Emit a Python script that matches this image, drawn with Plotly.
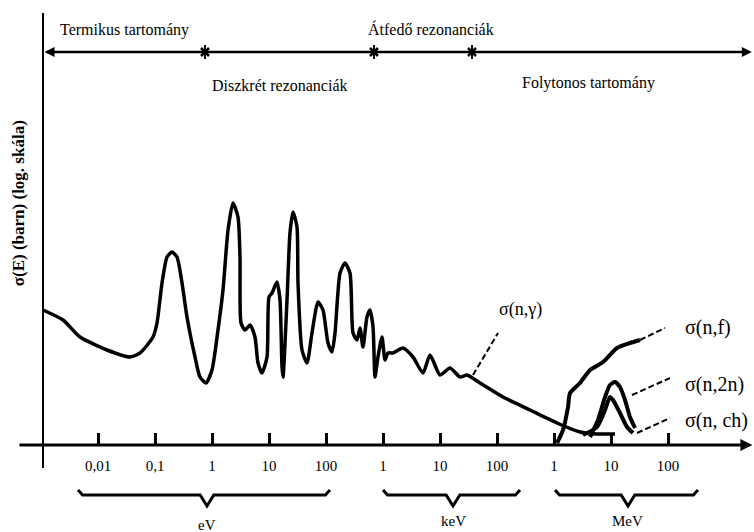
import plotly.graph_objects as go

# ---- data (x = log10(E / eV), y = relative log-cross-section units) ----
ng_logE = [-2.965, -2.614, -2.316, -1.842, -1.439, -1.263, -1.035, -0.965, -0.877, -0.789,
           -0.702, -0.614, -0.526, -0.439, -0.298, -0.211, -0.105, 0.0, 0.105, 0.193,
           0.281, 0.368, 0.456, 0.491, 0.509, 0.579, 0.667, 0.754, 0.807, 0.877,
           0.965, 1.0, 1.053, 1.140, 1.193, 1.228, 1.246, 1.316, 1.368, 1.421,
           1.491, 1.509, 1.579, 1.667, 1.754, 1.860, 1.947, 2.035, 2.105, 2.158,
           2.246, 2.333, 2.421, 2.474, 2.544, 2.596, 2.649, 2.719, 2.772, 2.825,
           2.860, 2.912, 2.982, 3.035, 3.088, 3.175, 3.351, 3.526, 3.702, 3.825,
           4.0, 4.175, 4.351, 4.474, 4.702, 5.105, 5.579, 6.053, 6.456, 6.754, 7.070]
ng_sigma = [13.5, 12.5, 10.8, 9.5, 8.8, 9.2, 10.8, 12.2, 16.2, 18.8,
            19.3, 18.8, 16.2, 12.8, 8.8, 6.8, 6.2, 7.5, 11.5, 15.5,
            21.5, 24.2, 22.8, 18.8, 12.2, 11.5, 12.0, 10.8, 8.2, 7.2,
            8.8, 14.8, 15.2, 16.3, 14.5, 7.8, 6.8, 14.5, 21.2, 23.3,
            21.8, 16.2, 9.5, 8.2, 11.2, 14.3, 13.5, 10.2, 9.3, 11.2,
            17.2, 18.2, 17.2, 11.2, 10.5, 11.7, 9.8, 12.8, 13.5, 11.8,
            6.8, 8.8, 10.8, 8.5, 9.2, 9.2, 9.7, 8.8, 7.2, 9.0,
            7.0, 7.7, 6.8, 7.0, 6.2, 4.8, 3.5, 2.2, 1.3, 1.1, 1.1]

nf_logE = [6.053, 6.158, 6.246, 6.281, 6.456, 6.632, 6.860, 7.105, 7.333, 7.509]
nf_sigma = [0.2, 1.5, 3.8, 5.2, 6.2, 7.5, 8.3, 9.7, 10.2, 10.5]

n2n_logE = [6.632, 6.772, 6.895, 6.982, 7.070, 7.158, 7.246, 7.333, 7.421]
n2n_sigma = [0.8, 2.5, 4.8, 6.0, 6.3, 5.8, 4.5, 2.8, 1.7]

nch_logE = [6.509, 6.754, 6.895, 6.982, 7.035, 7.158, 7.281, 7.386]
nch_sigma = [1.0, 1.8, 3.5, 4.8, 4.5, 3.2, 1.8, 1.2]

# curve labels: text, leader start (on curve), leader end, label anchor
curve_labels = ["σ(n,γ)", "σ(n,f)", "σ(n,2n)", "σ(n, ch)"]
leader_x0 = [4.579, 7.509, 7.368, 7.456]
leader_y0 = [7.0, 10.5, 5.0, 1.2]
leader_x1 = [5.018, 7.947, 8.035, 8.035]
leader_y1 = [11.2, 11.7, 6.7, 2.7]
label_x = [5.00, 8.27, 8.27, 8.27]
label_y = [13.6, 11.8, 6.1, 2.5]
label_size = [18, 20, 20, 20]

tick_logE = [-2, -1, 0, 1, 2, 3, 4, 5, 6, 7, 8]
tick_text = ["0,01", "0,1", "1", "10", "100", "1", "10", "100", "1", "10", "100"]

unit_names = ["eV", "keV", "MeV"]
unit_label_y = [-8.0, -7.6, -7.6]
brace_left = [-2.351, 3.0, 6.018]
brace_right = [2.070, 5.404, 8.526]
brace_mid = [-0.088, 4.228, 7.298]

region_names = ["Termikus tartomány", "Diszkrét rezonanciák", "Átfedő rezonanciák", "Folytonos tartomány"]
region_text_x = [-2.70, -0.035, 2.70, 5.40]
region_text_y = [41.5, 36.0, 41.6, 36.2]
region_bounds = [-0.123, 2.842, 4.561]

y_label = "σ(E) (barn) (log. skála)"

# ---- layout constants ----
X0, X1 = -212 / 57, (754 - 212) / 57
Y0, Y1 = -8.7, 44.5
TOP_Y = 39.3
FONT = "Times New Roman, Liberation Serif, DejaVu Serif, serif"

fig = go.Figure()

line_style = dict(color="black", width=3.5, shape="spline", smoothing=0.6)
fig.add_trace(go.Scatter(x=ng_logE, y=ng_sigma, mode="lines", line=line_style, hoverinfo="skip"))
fig.add_trace(go.Scatter(x=nf_logE, y=nf_sigma, mode="lines", line=dict(line_style, width=4), hoverinfo="skip"))
fig.add_trace(go.Scatter(x=n2n_logE, y=n2n_sigma, mode="lines", line=dict(line_style, width=4), hoverinfo="skip"))
fig.add_trace(go.Scatter(x=nch_logE, y=nch_sigma, mode="lines", line=dict(line_style, width=4), hoverinfo="skip"))

# leaders
for i in range(len(curve_labels)):
    fig.add_trace(go.Scatter(x=[leader_x0[i], leader_x1[i]], y=[leader_y0[i], leader_y1[i]],
                             mode="lines", line=dict(color="black", width=2, dash="6px,3px"),
                             hoverinfo="skip"))
    fig.add_annotation(x=label_x[i], y=label_y[i], text=curve_labels[i], showarrow=False,
                       xanchor="left", yanchor="middle",
                       font=dict(family=FONT, size=label_size[i], color="black"))

# braces for units
for i, u in enumerate(unit_names):
    a, b, m = brace_left[i], brace_right[i], brace_mid[i]
    bx = [a, a + 0.08, m - 0.12, m, m + 0.12, b - 0.08, b]
    by = [-4.5, -5.0, -5.0, -6.1, -5.0, -5.0, -4.5]
    fig.add_trace(go.Scatter(x=bx, y=by, mode="lines", line=dict(color="black", width=3),
                             hoverinfo="skip"))
    fig.add_annotation(x=m, y=unit_label_y[i], text=u, showarrow=False, yanchor="middle",
                       font=dict(family=FONT, size=15, color="black"))

# region boundary markers on the top arrow
fig.add_trace(go.Scatter(x=region_bounds, y=[TOP_Y] * len(region_bounds), mode="markers",
                         marker=dict(symbol="x-thin", size=8, line=dict(color="black", width=2.5)),
                         hoverinfo="skip"))
fig.add_trace(go.Scatter(x=region_bounds, y=[TOP_Y] * len(region_bounds), mode="markers",
                         marker=dict(symbol="line-ns", size=10, line=dict(color="black", width=2)),
                         hoverinfo="skip"))

for i, name in enumerate(region_names):
    fig.add_annotation(x=region_text_x[i], y=region_text_y[i], text=name, showarrow=False,
                       xanchor="left", yanchor="middle",
                       font=dict(family=FONT, size=16, color="black"))

# top arrow line
fig.add_annotation(x=9.47, y=TOP_Y, ax=-2.965, ay=TOP_Y, axref="x", ayref="y", xref="x", yref="y",
                   text="", showarrow=True, arrowhead=2, arrowsize=0.8, arrowwidth=2.5,
                   arrowside="end+start", arrowcolor="black")
# x axis line with arrow
fig.add_annotation(x=9.48, y=0, ax=-3.404, ay=0, axref="x", ayref="y", xref="x", yref="y",
                   text="", showarrow=True, arrowhead=2, arrowsize=0.8, arrowwidth=3,
                   arrowcolor="black")
# y axis line
fig.add_shape(type="line", x0=-2.965, x1=-2.965, y0=-2.3, y1=43.2, xref="x", yref="y",
              line=dict(color="black", width=2))

fig.add_annotation(x=-3.40, y=24.2, text=y_label, showarrow=False, textangle=-90,
                   font=dict(family=FONT, size=17, color="black", weight="bold"))

fig.update_layout(
    width=754, height=532, margin=dict(l=0, r=0, t=0, b=0),
    paper_bgcolor="white", plot_bgcolor="white", showlegend=False,
    xaxis=dict(range=[X0, X1], showgrid=False, zeroline=False, showline=False,
               anchor="free", position=87 / 532, ticks="inside", ticklen=12, tickwidth=3,
               tickcolor="black", tickvals=tick_logE, ticktext=tick_text,
               ticklabelstandoff=10,
               tickfont=dict(family=FONT, size=15, color="black"), fixedrange=True),
    yaxis=dict(range=[Y0, Y1], visible=False, showgrid=False, zeroline=False, fixedrange=True),
)

fig.write_html("out.html")
